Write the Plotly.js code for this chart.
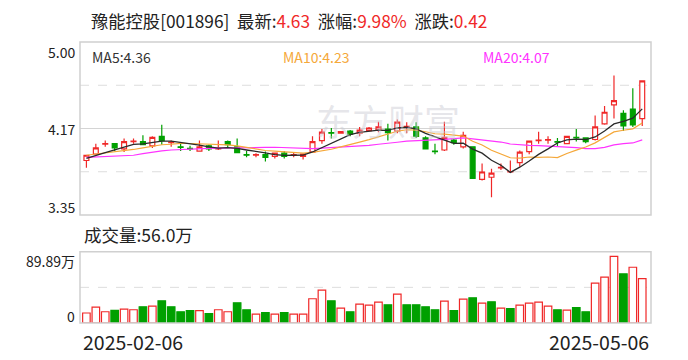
<!DOCTYPE html>
<html>
<head>
<meta charset="utf-8">
<script src="https://cdn.plot.ly/plotly-3.0.1.min.js"></script>
<style>html,body{margin:0;padding:0;background:#fff;}#chart{width:688px;height:360px;}</style>
</head>
<body>
<div id="chart"></div>
<script>
const dates = ['2025-02-06','2025-02-07','2025-02-10','2025-02-11','2025-02-12','2025-02-13','2025-02-14','2025-02-17','2025-02-18','2025-02-19',
'2025-02-20','2025-02-21','2025-02-24','2025-02-25','2025-02-26','2025-02-27','2025-02-28','2025-03-03','2025-03-04','2025-03-05',
'2025-03-06','2025-03-07','2025-03-10','2025-03-11','2025-03-12','2025-03-13','2025-03-14','2025-03-17','2025-03-18','2025-03-19',
'2025-03-20','2025-03-21','2025-03-24','2025-03-25','2025-03-26','2025-03-27','2025-03-28','2025-03-31','2025-04-01','2025-04-02',
'2025-04-03','2025-04-07','2025-04-08','2025-04-09','2025-04-10','2025-04-11','2025-04-14','2025-04-15','2025-04-16','2025-04-17',
'2025-04-18','2025-04-21','2025-04-22','2025-04-23','2025-04-24','2025-04-25','2025-04-28','2025-04-29','2025-04-30','2025-05-06'];

const open = [3.87,3.93,4.025,4.03,3.98,4.05,4.05,4.01,4.10,4.04,
4.00,3.985,3.96,4.01,3.98,4.05,4.00,3.925,3.92,3.925,
3.91,3.94,3.92,3.91,3.95,4.06,4.135,4.13,4.15,4.13,
4.155,4.16,4.17,4.15,4.19,4.19,4.085,3.96,3.97,4.065,
4.00,4.00,3.69,3.71,3.80,3.76,3.85,3.955,4.06,4.065,
4.05,4.03,4.09,4.085,4.07,4.22,4.40,4.32,4.36,4.27];

const high = [3.92,4.03,4.06,4.03,4.08,4.08,4.11,4.10,4.21,4.06,
4.03,4.01,4.06,4.02,4.06,4.06,4.08,3.96,3.94,3.955,
3.94,3.96,3.95,3.94,4.10,4.17,4.18,4.15,4.16,4.19,
4.19,4.24,4.22,4.26,4.235,4.235,4.10,4.03,4.24,4.08,
4.145,4.00,3.84,3.79,3.84,3.87,3.965,4.06,4.145,4.10,
4.085,4.10,4.17,4.09,4.30,4.39,4.68,4.35,4.56,4.63];

const low = [3.80,3.93,4.00,3.96,3.95,4.03,4.02,3.99,4.02,4.00,
3.96,3.96,3.955,3.96,3.97,3.99,3.945,3.90,3.90,3.86,
3.89,3.89,3.90,3.88,3.95,4.03,4.08,4.125,4.10,4.10,
4.15,4.14,4.06,4.13,4.13,4.085,3.975,3.93,3.96,4.02,
3.985,3.70,3.68,3.52,3.78,3.75,3.81,3.93,4.03,4.03,
4.00,4.03,4.05,4.035,4.06,4.21,4.27,4.15,4.19,4.20];

const close = [3.92,3.99,4.03,3.99,4.05,4.055,4.02,4.09,4.06,4.045,
3.995,3.98,4.00,3.98,3.985,4.02,3.945,3.92,3.925,3.90,
3.94,3.91,3.925,3.93,4.05,4.14,4.13,4.145,4.12,4.16,
4.18,4.19,4.135,4.235,4.195,4.10,3.98,3.955,4.09,4.04,
4.11,3.70,3.76,3.75,3.805,3.765,3.95,4.055,4.065,4.07,
4.045,4.10,4.085,4.05,4.19,4.33,4.44,4.20,4.21,4.63];

// volume in 万 (10k shares)
const volume = [12.6,20.1,14.2,15.9,17.6,16.7,20.5,21.3,28.0,20.5,
14.2,15.5,15.5,11.7,16.7,14.2,25.5,16.7,11.3,13.0,
11.3,13.0,11.3,11.3,30.6,41.4,28.0,18.8,14.2,23.9,
22.6,26.4,23.0,36.4,23.0,23.0,20.5,16.7,27.6,15.5,
30.1,31.8,25.1,26.8,18.8,18.0,22.6,25.1,26.4,21.3,
16.7,16.3,19.3,14.2,50.2,57.8,84.1,61.9,70.3,56.0];

const ma5 = [3.89,3.92,3.945,3.97,3.996,4.023,4.029,4.041,4.055,4.054,
4.042,4.034,4.016,4.000,3.988,3.993,3.986,3.970,3.959,3.942,
3.926,3.919,3.920,3.921,3.951,3.991,4.035,4.079,4.117,4.139,
4.147,4.159,4.157,4.180,4.187,4.171,4.129,4.093,4.064,4.033,
4.035,3.979,3.940,3.872,3.825,3.756,3.806,3.865,3.928,3.981,
4.037,4.067,4.073,4.070,4.094,4.151,4.219,4.242,4.274,4.362];

const ma10 = [3.92,3.93,3.94,3.95,3.96,3.975,3.99,4.005,4.02,4.025,
4.033,4.032,4.029,4.028,4.021,4.018,4.010,3.993,3.980,3.965,
3.960,3.953,3.945,3.940,3.947,3.959,3.977,4.000,4.019,4.045,
4.069,4.097,4.118,4.149,4.163,4.159,4.144,4.125,4.122,4.110,
4.103,4.054,4.017,3.968,3.929,3.896,3.893,3.903,3.900,3.903,
3.897,3.937,3.969,3.999,4.038,4.094,4.143,4.158,4.172,4.228];

const ma20 = [3.90,3.903,3.906,3.91,3.915,3.92,3.935,3.95,3.962,3.97,
3.975,3.978,3.982,3.985,3.987,3.99,3.992,3.993,3.994,3.995,
3.996,3.992,3.987,3.984,3.984,3.988,3.994,3.996,3.999,4.005,
4.014,4.025,4.032,4.044,4.055,4.059,4.061,4.062,4.071,4.078,
4.086,4.076,4.067,4.058,4.046,4.027,4.018,4.014,4.011,4.007,
4.000,3.995,3.993,3.984,3.983,3.995,4.018,4.030,4.037,4.066];

const priceTicks = [5.00, 4.175, 3.35];
const priceTickText = ['5.00', '4.17', '3.35'];
const volMax = 89.89;
const volTickText = ['89.89万', '0'];
const stockName = '豫能控股';
const stockCode = '001896';

const RED = '#f02828', GREEN = '#00a000';
const FONT = 'Noto Sans CJK SC, Noto Sans, sans-serif';

const n = close.length;
const volColors = close.map((c, i) => {
  const ref = i === 0 ? open[0] : close[i - 1];
  return c >= ref ? RED : GREEN;
});
const volFill = volColors.map(c => c === RED ? '#ffffff' : GREEN);

const last = close[n - 1], prev = close[n - 2];
const chg = last - prev, pct = chg / prev * 100;

const traces = [
  {
    type: 'candlestick', x: dates, open: open, high: high, low: low, close: close,
    xaxis: 'x', yaxis: 'y',
    increasing: {line: {color: RED, width: 1.2}, fillcolor: '#ffffff'},
    decreasing: {line: {color: GREEN, width: 1.2}, fillcolor: GREEN},
    whiskerwidth: 0, hoverinfo: 'none', showlegend: false
  },
  {type: 'scatter', mode: 'lines', x: dates, y: ma20, xaxis: 'x', yaxis: 'y',
   line: {color: '#ff33ff', width: 1.2}, hoverinfo: 'none', showlegend: false},
  {type: 'scatter', mode: 'lines', x: dates, y: ma10, xaxis: 'x', yaxis: 'y',
   line: {color: '#f5a83a', width: 1.2}, hoverinfo: 'none', showlegend: false},
  {type: 'scatter', mode: 'lines', x: dates, y: ma5, xaxis: 'x', yaxis: 'y',
   line: {color: '#2a2a2a', width: 1.3}, hoverinfo: 'none', showlegend: false},
  {type: 'bar', x: dates, y: volume, xaxis: 'x', yaxis: 'y2',
   marker: {color: volFill, line: {color: volColors, width: 1.2}},
   hoverinfo: 'none', showlegend: false}
];

const L = 80, R = 37, T = 42, B = 37;
const W = 688, H = 360;
const pw = W - L - R, ph = H - T - B;
const px = x => (x - L) / pw;
const py = y => (T + ph - y) / ph;

const priceDomain = [py(215), 1];
const volDomain = [0, py(251.7)];

const annotations = [];
function ann(text, x, y, xanchor, size, color, extra) {
  annotations.push(Object.assign({
    text: text, xref: 'paper', yref: 'paper', x: x, y: y,
    xanchor: xanchor, yanchor: 'middle', showarrow: false,
    font: {family: FONT, size: size, color: color}
  }, extra || {}));
}

const red = s => '<span style="color:' + RED + '">' + s + '</span>';
ann(stockName + '[' + stockCode + ']&nbsp;&nbsp;最新:' + red(last.toFixed(2)) +
    '&nbsp;&nbsp;涨幅:' + red(pct.toFixed(2) + '%') +
    '&nbsp;&nbsp;涨跌:' + red(chg.toFixed(2)),
    px(89), py(20), 'left', 17.3, '#222222');

ann('MA5:' + ma5[n - 1].toFixed(2), px(90), py(57), 'left', 14, '#333333');
ann('MA10:' + ma10[n - 1].toFixed(2), px(281), py(57), 'left', 14, '#f5a83a');
ann('MA20:' + ma20[n - 1].toFixed(2), px(481), py(57), 'left', 14, '#ff33ff');

const priceLabelY = [52, 129, 207];
priceTickText.forEach((t, i) => ann(t, px(77), py(priceLabelY[i]), 'right', 14, '#222222'));

ann('成交量:' + volume[n - 1].toFixed(1) + '万', px(82), py(234), 'left', 17.5, '#222222');
ann(volTickText[0], px(77), py(261), 'right', 14, '#222222');
ann(volTickText[1], px(77), py(316), 'right', 14, '#222222');

ann(dates[0], px(81), py(341), 'left', 19.5, '#222222');
ann(dates[n - 1], px(651), py(341), 'right', 19.5, '#222222');

// watermark
ann('东方财富', px(388), py(120), 'center', 36, 'rgba(200,200,208,0.45)');

const shapes = [];
const grid = (y0, dash, yref) => shapes.push({type: 'line', xref: 'paper', yref: yref,
  x0: 0, x1: 1, y0: y0, y1: y0, line: {color: dash ? '#dddddd' : '#d4d4d4', width: 1, dash: dash ? 'dash' : 'solid'}, layer: 'below'});
const pStep = (priceTicks[0] - priceTicks[2]) / 4;
grid(priceTicks[2] + pStep, true, 'y');
grid(priceTicks[1], false, 'y');
grid(priceTicks[0] - pStep, true, 'y');
grid(volMax / 2, true, 'y2');
shapes.push({type: 'rect', xref: 'paper', yref: 'paper', x0: 0, x1: 1, y0: priceDomain[0], y1: priceDomain[1],
  line: {color: '#d0d0d0', width: 1.5}, layer: 'above'});
shapes.push({type: 'rect', xref: 'paper', yref: 'paper', x0: 0, x1: 1, y0: volDomain[0], y1: volDomain[1],
  line: {color: '#d0d0d0', width: 1.5}, layer: 'above'});

const layout = {
  width: W, height: H,
  margin: {l: L, r: R, t: T, b: B, pad: 0},
  paper_bgcolor: '#ffffff', plot_bgcolor: '#ffffff',
  showlegend: false,
  boxgap: 0.26, bargap: 0.2,
  xaxis: {type: 'category', range: [-0.68, n - 1 + 0.93], showgrid: false, zeroline: false,
          showticklabels: false, ticks: '', showline: false, rangeslider: {visible: false}, fixedrange: true},
  yaxis: {domain: priceDomain, range: [priceTicks[2], priceTicks[0]], showgrid: false, zeroline: false,
          showticklabels: false, ticks: '', showline: false, fixedrange: true},
  yaxis2: {domain: volDomain, range: [0, volMax], anchor: 'x', showgrid: false, zeroline: false,
           showticklabels: false, ticks: '', showline: false, fixedrange: true},
  annotations: annotations,
  shapes: shapes,
  font: {family: FONT}
};

Plotly.newPlot('chart', traces, layout, {displayModeBar: false, staticPlot: true});
</script>
</body>
</html>
